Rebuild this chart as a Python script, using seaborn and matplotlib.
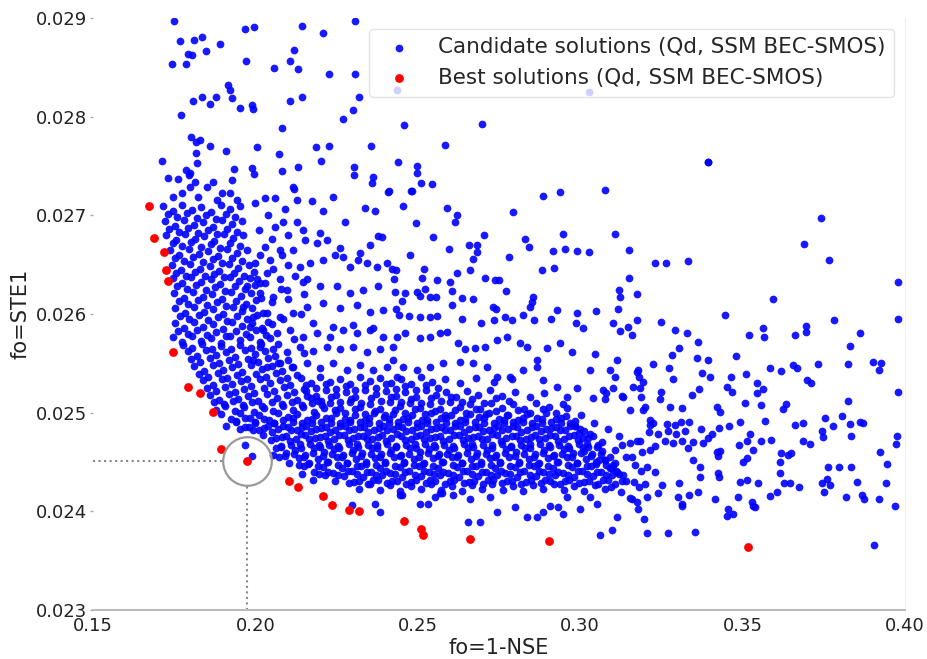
import matplotlib
matplotlib.use("Agg")
import matplotlib.pyplot as plt
import seaborn as sns
import pandas as pd

# Best (pareto) solutions
best_x = [0.1672, 0.1688, 0.1718, 0.1725, 0.1731, 0.1746, 0.1792, 0.1829, 0.1869, 0.1894,
          0.1974, 0.2103, 0.2131, 0.2208, 0.2235, 0.2288, 0.2318, 0.2457, 0.2509, 0.2515,
          0.2660, 0.2903, 0.3518]
best_y = [0.02709, 0.02677, 0.02663, 0.02645, 0.02633, 0.02561, 0.02526, 0.02520, 0.02501, 0.02463,
          0.02451, 0.02431, 0.02425, 0.02416, 0.02406, 0.02401, 0.02400, 0.02390, 0.02382, 0.02376,
          0.02372, 0.02370, 0.02364]

# chosen solution (circled)
chosen = 10

# Candidate solutions, read region by region
upper_pts = [
    (.1749,.02897),(.1768,.02877),(.1811,.02878),(.1835,.02881),(.1848,.02867),(.1792,.02863),(.1805,.02862),
    (.1743,.02853),(.1786,.02853),(.1891,.02874),(.1968,.02889),(.1995,.02891),(.1971,.02856),(.2057,.02849),
    (.2118,.02868),(.2143,.02892),(.2106,.02856),(.2131,.02848),(.1915,.02832),(.1922,.02827),(.1808,.02816),
    (.1835,.02820),(.1860,.02813),(.1878,.02820),(.1928,.02819),(.1952,.02809),(.1989,.02812),(.1992,.02808),
    (.2106,.02816),(.2143,.02820),(.1771,.02802),(.2082,.02788),(.1802,.02779),(.1817,.02774),(.1829,.02776),
    (.1860,.02770),(.1817,.02763),(.1909,.02765),(.2005,.02769),(.2072,.02762),(.2186,.02769),(.1712,.02755),
    (.1820,.02753),(.1786,.02746),(.1798,.02743),(.1934,.02747),(.1989,.02748),(.2131,.02749),(.1995,.02742),
    (.2082,.02745),(.1762,.02737),(.1795,.02741),(.1928,.02736),(.2118,.02727),
    (.2306,.02897),(.2208,.02885),(.2226,.02843),(.2306,.02843),(.2318,.02820),(.2300,.02807),(.2269,.02798),
    (.2457,.02792),(.2697,.02793),(.2226,.02770),(.2355,.02770),(.2583,.02771),(.2202,.02755),(.2303,.02749),
    (.2303,.02741),(.2438,.02754),(.2497,.02750),(.2411,.02725),(.2478,.02725),(.2435,.02827),(.3026,.02825),
    (.3395,.02754),
    (.1731,.02738),(.1798,.02729),(.1814,.02734),(.1851,.02729),(.1869,.02734),(.1897,.02723),(.1922,.02723),
    (.1943,.02716),(.1746,.02719),(.1774,.02723),(.1823,.02719),(.1882,.02716),
]

mid_pts = [
    (.2174,.02715),(.2238,.02719),(.2408,.02724),(.2358,.02733),(.2362,.02739),(.2497,.02743),(.2208,.02704),
    (.2337,.02707),(.2368,.02704),(.2275,.02693),(.2146,.02685),(.2198,.02682),(.2152,.02675),(.2189,.02672),
    (.2220,.02675),(.2260,.02667),(.2269,.02658),(.2322,.02662),(.2352,.02670),(.2377,.02679),(.2389,.02678),
    (.2137,.02648),(.2168,.02652),(.2208,.02655),(.2245,.02660),(.2291,.02648),(.2315,.02655),(.2343,.02652),
    (.2374,.02648),(.2405,.02652),(.2146,.02632),(.2198,.02628),(.2251,.02628),(.2291,.02621),(.2331,.02624),
    (.2377,.02628),(.2158,.02607),(.2208,.02611),(.2260,.02606),(.2312,.02609),(.2352,.02602),(.2392,.02604),
    (.2177,.02591),(.2238,.02587),(.2300,.02589),(.2362,.02586),
    (.2509,.02733),(.2543,.02732),(.2482,.02725),(.2885,.02720),(.2937,.02724),(.3075,.02726),(.2454,.02709),
    (.2589,.02707),(.2620,.02700),(.2614,.02693),(.2792,.02703),(.2494,.02692),(.2546,.02678),(.2703,.02680),
    (.2946,.02681),(.3106,.02681),(.2829,.02676),(.2842,.02668),(.2595,.02666),(.2657,.02670),(.2682,.02670),
    (.2682,.02663),(.2915,.02664),(.2952,.02666),(.2989,.02664),(.3026,.02663),(.3149,.02665),(.2475,.02660),
    (.2669,.02656),(.2780,.02658),(.2420,.02646),(.2432,.02645),(.2518,.02646),(.2620,.02642),(.2660,.02645),
    (.2882,.02645),(.2918,.02647),(.2426,.02635),(.2512,.02636),(.2558,.02634),(.2706,.02636),(.2737,.02634),
    (.2749,.02634),(.3149,.02636),(.2429,.02622),(.2460,.02621),(.2497,.02622),(.2522,.02625),(.2598,.02632),
    (.2605,.02623),(.2771,.02623),(.3118,.02624),(.3174,.02620),(.3122,.02617),(.2451,.02613),(.2506,.02618),
    (.2537,.02617),(.2555,.02617),(.2635,.02616),(.2669,.02615),(.2854,.02617),(.2851,.02612),(.2845,.02607),
    (.2605,.02609),(.2432,.02605),(.2731,.02607),(.2740,.02605),(.2928,.02604),(.2989,.02601),(.3048,.02603),
    (.3115,.02605),(.2442,.02599),(.2472,.02598),(.2506,.02597),(.2537,.02597),(.2558,.02598),(.2635,.02595),
    (.2694,.02591),(.2734,.02594),(.2768,.02597),(.2789,.02594),(.2823,.02599),(.2857,.02594),(.2909,.02595),
    (.2986,.02591),(.3008,.02586),(.3146,.02587),(.3174,.02594),(.3122,.02583),
    (.2435,.02577),(.2460,.02581),(.2506,.02576),(.2537,.02577),(.2568,.02581),(.2589,.02582),(.2623,.02571),
    (.2645,.02564),(.2675,.02566),(.2706,.02567),(.2743,.02574),(.2774,.02577),(.2814,.02571),(.2835,.02567),
    (.2866,.02553),(.2897,.02566),(.2937,.02571),(.2974,.02561),(.3045,.02559),(.3029,.02543),(.3174,.02541),
    (.3192,.02531),(.3131,.02516),(.3152,.02503),(.3192,.02503),(.3081,.02520),(.3039,.02515),(.2989,.02525),
    (.2958,.02516),(.2928,.02526),(.2885,.02533),(.2866,.02546),(.2823,.02543),(.2783,.02536),(.2743,.02536),
    (.2712,.02546),(.2669,.02550),(.2629,.02551),(.2577,.02550),(.2537,.02546),(.2497,.02543),(.2454,.02546),
    (.2423,.02553),
    (.2115,.02729),(.2029,.02718),(.2060,.02718),(.2128,.02716),(.2085,.02693),(.2128,.02693),(.2060,.02688),
    (.2014,.02660),(.2045,.02655),(.2082,.02660),(.2115,.02665),(.2035,.02642),(.2075,.02635),(.2122,.02638),
    (.2005,.02635),(.1974,.02628),(.2014,.02621),(.2054,.02617),(.2097,.02624),(.2115,.02601),(.2075,.02597),
    (.2035,.02601),(.1992,.02597),(.1962,.02607),(.1983,.02587),(.2023,.02584),(.2066,.02581),(.2106,.02584),
    (.2146,.02577),(.2189,.02581),(.2229,.02577),(.2269,.02584),(.2312,.02581),(.2352,.02584),(.2392,.02577),
    (.2423,.02567),(.2383,.02564),(.2343,.02561),(.2300,.02567),(.2260,.02564),(.2220,.02567),(.2177,.02562),
    (.2137,.02567),(.2097,.02561),(.2054,.02564),(.2014,.02567),(.1992,.02553),(.2035,.02546),(.2075,.02550),
    (.2115,.02546),(.2158,.02550),(.2198,.02545),(.2238,.02550),(.2282,.02543),(.2322,.02548),(.2362,.02543),
    (.2405,.02546),(.2435,.02536),
    (.2000,.02712),(.2040,.02700),(.2090,.02706),(.2010,.02685),(.2050,.02676),(.2100,.02680),(.2030,.02668),
    (.2075,.02665),(.2000,.02652),(.2055,.02646),(.2100,.02650),(.2030,.02631),(.2080,.02625),(.2050,.02612),
    (.2100,.02615),(.2040,.02592),(.2085,.02595),(.2070,.02570),(.2120,.02575),(.2100,.02553),(.2150,.02560),
    (.2140,.02600),(.2160,.02635),(.2150,.02620),
]

arm_pts = [
    (.1716,.02709),(.1745,.02704),(.1775,.02710),(.1804,.02705),(.1834,.02708),(.1863,.02703),(.1893,.02710),(.1922,.02706),(.1954,.02709),
    (.1722,.02694),(.1751,.02689),(.1780,.02695),(.1810,.02690),(.1839,.02693),(.1869,.02688),(.1898,.02695),(.1928,.02691),(.1960,.02694),
    (.1726,.02680),(.1755,.02675),(.1784,.02681),(.1814,.02676),(.1843,.02679),(.1873,.02674),(.1902,.02681),(.1932,.02677),(.1963,.02680),
    (.1737,.02665),(.1766,.02660),(.1795,.02666),(.1825,.02661),(.1854,.02664),(.1884,.02659),(.1913,.02666),(.1943,.02662),(.1974,.02665),
    (.1742,.02650),(.1771,.02645),(.1800,.02651),(.1830,.02646),(.1859,.02649),(.1889,.02644),(.1918,.02651),(.1948,.02647),(.1979,.02650),
    (.1745,.02636),(.1774,.02631),(.1803,.02637),(.1833,.02632),(.1862,.02635),(.1892,.02630),(.1921,.02637),(.1951,.02633),(.1982,.02636),(.2013,.02631),
    (.1750,.02621),(.1779,.02616),(.1808,.02622),(.1838,.02617),(.1867,.02620),(.1897,.02615),(.1926,.02622),(.1956,.02618),(.1987,.02621),(.2018,.02616),
    (.1754,.02606),(.1783,.02601),(.1812,.02607),(.1842,.02602),(.1871,.02605),(.1901,.02600),(.1930,.02607),(.1960,.02603),(.1991,.02606),(.2022,.02601),
    (.1752,.02591),(.1781,.02586),(.1810,.02592),(.1840,.02587),(.1869,.02590),(.1899,.02585),(.1928,.02592),(.1958,.02588),(.1989,.02591),(.2020,.02586),(.2051,.02590),
    (.1746,.02577),(.1775,.02572),(.1804,.02578),(.1834,.02573),(.1863,.02576),(.1893,.02571),(.1922,.02578),(.1952,.02574),(.1983,.02577),(.2014,.02572),(.2045,.02576),
    (.1792,.02562),(.1820,.02557),(.1849,.02563),(.1879,.02558),(.1908,.02561),(.1938,.02556),(.1967,.02563),(.1998,.02559),(.2029,.02562),(.2060,.02557),
    (.1812,.02547),(.1841,.02542),(.1870,.02548),(.1900,.02543),(.1929,.02546),(.1959,.02541),(.1988,.02548),(.2019,.02544),(.2050,.02547),(.2081,.02542),(.2112,.02546),
    (.1840,.02533),(.1868,.02528),(.1897,.02534),(.1927,.02529),(.1956,.02532),(.1986,.02527),(.2015,.02534),(.2046,.02530),(.2077,.02533),(.2108,.02528),
    (.1860,.02518),(.1889,.02513),(.1918,.02519),(.1948,.02514),(.1977,.02517),(.2007,.02512),(.2036,.02519),(.2067,.02515),(.2098,.02518),(.2129,.02513),(.2160,.02517),(.2192,.02512),
    (.1878,.02503),(.1907,.02507),(.1936,.02502),(.1966,.02506),(.1995,.02501),(.2025,.02505),(.2055,.02502),(.2086,.02507),(.2117,.02503),(.2148,.02506),(.2180,.02501),(.2212,.02505),
]

# in-between points of the dense arm
arm2_pts = [
    (.1730,.02701),(.1760,.02698),(.1789,.02702),(.1819,.02697),(.1848,.02700),(.1878,.02696),(.1908,.02701),(.1938,.02698),
    (.1735,.02686),(.1765,.02683),(.1794,.02687),(.1824,.02682),(.1853,.02685),(.1883,.02681),(.1913,.02686),(.1944,.02683),
    (.1745,.02672),(.1774,.02669),(.1803,.02673),(.1833,.02668),(.1862,.02671),(.1892,.02667),(.1922,.02672),(.1953,.02669),
    (.1751,.02657),(.1780,.02654),(.1809,.02658),(.1839,.02653),(.1868,.02656),(.1898,.02652),(.1928,.02657),(.1959,.02654),
    (.1756,.02642),(.1785,.02639),(.1814,.02643),(.1844,.02638),(.1873,.02641),(.1903,.02637),(.1933,.02642),(.1964,.02639),(.1995,.02643),
    (.1760,.02628),(.1789,.02625),(.1818,.02629),(.1848,.02624),(.1877,.02627),(.1907,.02623),(.1937,.02628),(.1968,.02625),(.1999,.02629),
    (.1764,.02613),(.1793,.02610),(.1822,.02614),(.1852,.02609),(.1881,.02612),(.1911,.02608),(.1941,.02613),(.1972,.02610),(.2003,.02614),
    (.1767,.02598),(.1796,.02595),(.1825,.02599),(.1855,.02594),(.1884,.02597),(.1914,.02593),(.1944,.02598),(.1975,.02595),(.2006,.02599),
    (.1762,.02583),(.1791,.02580),(.1820,.02584),(.1850,.02579),(.1879,.02582),(.1909,.02578),(.1939,.02583),(.1970,.02580),(.2001,.02584),(.2032,.02579),
    (.1778,.02569),(.1806,.02566),(.1835,.02570),(.1865,.02565),(.1894,.02568),(.1924,.02564),(.1954,.02569),(.1985,.02566),(.2016,.02570),
    (.1802,.02554),(.1830,.02551),(.1859,.02555),(.1889,.02550),(.1918,.02553),(.1948,.02549),(.1978,.02554),(.2009,.02551),(.2040,.02555),(.2071,.02550),
    (.1826,.02539),(.1855,.02536),(.1884,.02540),(.1914,.02535),(.1943,.02538),(.1973,.02534),(.2003,.02539),(.2034,.02536),(.2065,.02540),(.2096,.02535),(.2127,.02538),
    (.1850,.02525),(.1878,.02522),(.1907,.02526),(.1937,.02521),(.1966,.02524),(.1996,.02520),(.2026,.02525),(.2057,.02522),(.2088,.02526),(.2119,.02521),(.2150,.02524),
    (.1873,.02511),(.1902,.02509),(.1931,.02512),(.1961,.02508),(.1990,.02511),(.2020,.02507),(.2050,.02511),(.2081,.02509),(.2112,.02511),(.2143,.02508),(.2175,.02510),(.2206,.02508),
]

band_pts = [
    (.2140,.02535),(.2170,.02530),(.2200,.02536),(.2231,.02531),(.2262,.02534),(.2292,.02529),(.2323,.02536),(.2354,.02532),(.2385,.02535),(.2416,.02530),
    (.2447,.02534),(.2478,.02529),(.2510,.02536),(.2545,.02531),(.2585,.02534),(.2630,.02530),(.2680,.02535),(.2735,.02531),(.2790,.02534),
    (.2155,.02522),(.2186,.02517),(.2216,.02523),(.2247,.02518),(.2278,.02521),(.2308,.02516),(.2339,.02523),(.2370,.02519),(.2401,.02522),(.2432,.02517),
    (.2462,.02521),(.2493,.02516),(.2524,.02523),(.2555,.02518),(.2586,.02521),(.2617,.02516),(.2650,.02522),(.2686,.02518),(.2722,.02523),(.2760,.02517),
    (.2800,.02521),(.2845,.02516),(.2890,.02520),
    (.2230,.02510),(.2261,.02505),(.2292,.02511),(.2322,.02506),(.2353,.02509),(.2384,.02504),(.2415,.02511),(.2446,.02507),(.2477,.02510),(.2507,.02505),
    (.2538,.02509),(.2569,.02504),(.2600,.02511),(.2631,.02506),(.2662,.02509),(.2693,.02504),(.2725,.02510),(.2758,.02505),(.2792,.02509),(.2828,.02504),
    (.2865,.02510),(.2905,.02506),(.2948,.02509),
    (.1895,.02499),(.1924,.02494),(.1953,.02500),(.1983,.02495),(.2012,.02498),(.2041,.02493),(.2071,.02500),(.2100,.02496),(.2129,.02499),(.2159,.02493),
    (.2188,.02498),(.2218,.02495),(.2247,.02500),(.2277,.02494),(.2306,.02498),(.2336,.02493),(.2365,.02500),(.2395,.02496),(.2424,.02499),(.2454,.02494),
    (.2483,.02498),(.2513,.02493),(.2542,.02500),(.2572,.02495),(.2601,.02498),(.2631,.02493),(.2660,.02499),(.2690,.02496),(.2719,.02500),(.2749,.02494),
    (.2778,.02498),(.2808,.02493),(.2837,.02499),(.2867,.02495),(.2896,.02500),(.2926,.02494),(.2955,.02497),(.2985,.02492),
    (.1910,.02486),(.1939,.02491),(.1968,.02485),(.1998,.02490),(.2027,.02484),(.2056,.02489),(.2086,.02486),(.2115,.02491),(.2144,.02485),(.2174,.02489),
    (.2203,.02484),(.2233,.02490),(.2262,.02486),(.2292,.02491),(.2321,.02485),(.2351,.02489),(.2380,.02484),(.2410,.02490),(.2439,.02486),(.2469,.02491),
    (.2498,.02485),(.2528,.02489),(.2557,.02484),(.2587,.02490),(.2616,.02486),(.2646,.02491),(.2675,.02485),(.2705,.02489),(.2734,.02484),(.2764,.02490),
    (.2793,.02486),(.2823,.02491),(.2852,.02485),(.2882,.02489),(.2911,.02484),(.2941,.02490),(.2970,.02486),(.3000,.02483),
    (.1993,.02482),(.2023,.02477),(.2052,.02480),(.2082,.02475),(.2111,.02482),(.2140,.02478),(.2170,.02481),(.2199,.02475),(.2229,.02480),(.2258,.02477),
    (.2288,.02482),(.2317,.02476),(.2347,.02480),(.2376,.02475),(.2406,.02482),(.2435,.02478),(.2465,.02481),(.2494,.02476),(.2524,.02480),(.2553,.02475),
    (.2583,.02482),(.2612,.02477),(.2642,.02480),(.2671,.02475),(.2701,.02481),(.2730,.02478),(.2760,.02482),(.2789,.02476),(.2819,.02480),(.2848,.02475),
    (.2878,.02481),(.2907,.02477),(.2937,.02482),(.2966,.02476),(.2996,.02479),(.3025,.02474),
    (.2048,.02472),(.2078,.02466),(.2107,.02471),(.2137,.02468),(.2166,.02473),(.2196,.02467),(.2225,.02471),(.2255,.02466),(.2284,.02472),(.2314,.02468),
    (.2343,.02473),(.2373,.02467),(.2402,.02471),(.2432,.02466),(.2461,.02472),(.2491,.02468),(.2520,.02473),(.2550,.02467),(.2579,.02471),(.2609,.02466),
    (.2638,.02472),(.2668,.02468),(.2697,.02473),(.2727,.02467),(.2756,.02471),(.2786,.02466),(.2815,.02472),(.2845,.02468),(.2874,.02473),(.2904,.02467),
    (.2933,.02471),(.2963,.02466),(.2992,.02472),(.3022,.02468),(.3051,.02465),
    (.2064,.02464),(.2093,.02459),(.2123,.02462),(.2152,.02457),(.2182,.02464),(.2211,.02460),(.2241,.02463),(.2270,.02457),(.2300,.02462),(.2329,.02459),
    (.2359,.02464),(.2388,.02458),(.2418,.02462),(.2447,.02457),(.2477,.02464),(.2506,.02460),(.2536,.02463),(.2565,.02458),(.2595,.02462),(.2624,.02457),
    (.2654,.02464),(.2683,.02459),(.2713,.02462),(.2742,.02457),(.2772,.02463),(.2801,.02460),(.2831,.02464),(.2860,.02458),(.2890,.02462),(.2919,.02457),
    (.2949,.02463),(.2978,.02459),(.3008,.02464),(.3037,.02458),(.3067,.02461),
    (.2074,.02455),(.2104,.02449),(.2133,.02454),(.2163,.02448),(.2192,.02453),(.2222,.02450),(.2251,.02455),(.2281,.02449),(.2310,.02453),(.2340,.02448),
    (.2369,.02454),(.2399,.02450),(.2428,.02455),(.2458,.02449),(.2487,.02453),(.2517,.02448),(.2546,.02454),(.2576,.02450),(.2605,.02455),(.2635,.02449),
    (.2664,.02453),(.2694,.02448),(.2723,.02454),(.2753,.02450),(.2782,.02455),(.2812,.02449),(.2841,.02453),(.2871,.02448),(.2900,.02454),(.2930,.02450),
    (.2959,.02455),(.2989,.02449),(.3018,.02453),(.3048,.02448),(.3077,.02452),(.3100,.02447),
    (.2149,.02446),(.2179,.02440),(.2208,.02445),(.2238,.02439),(.2267,.02444),(.2297,.02441),(.2326,.02446),(.2356,.02440),(.2385,.02444),(.2415,.02439),
    (.2444,.02445),(.2474,.02441),(.2503,.02446),(.2533,.02440),(.2562,.02444),(.2592,.02439),(.2621,.02445),(.2651,.02441),(.2680,.02446),(.2710,.02440),
    (.2739,.02444),(.2769,.02439),(.2798,.02445),(.2828,.02441),(.2857,.02446),(.2887,.02440),(.2916,.02444),(.2946,.02439),(.2975,.02445),(.3005,.02441),
    (.3034,.02446),(.3064,.02440),(.3093,.02444),(.3120,.02438),
    (.2214,.02437),(.2244,.02431),(.2273,.02436),(.2303,.02430),(.2332,.02435),(.2362,.02432),(.2391,.02437),(.2421,.02431),(.2450,.02435),(.2480,.02430),
    (.2509,.02436),(.2539,.02432),(.2568,.02437),(.2598,.02431),(.2627,.02435),(.2657,.02430),(.2686,.02436),(.2716,.02432),(.2745,.02437),(.2775,.02431),
    (.2804,.02435),(.2834,.02430),(.2863,.02436),(.2893,.02432),(.2922,.02437),(.2952,.02431),(.2981,.02435),(.3011,.02430),(.3040,.02436),(.3070,.02432),
    (.3099,.02437),(.3128,.02431),
    (.2320,.02423),(.2352,.02428),(.2383,.02422),(.2415,.02427),(.2446,.02421),(.2478,.02426),(.2509,.02423),(.2541,.02428),(.2572,.02422),(.2604,.02426),
    (.2635,.02421),(.2667,.02427),(.2698,.02423),(.2730,.02428),(.2761,.02422),(.2793,.02426),(.2824,.02421),(.2856,.02427),(.2887,.02423),(.2919,.02428),
    (.2950,.02422),(.2982,.02426),(.3013,.02421),(.3045,.02427),(.3076,.02423),(.3108,.02428),
    (.2960,.02505),(.3001,.02498),(.3044,.02490),(.3085,.02483),(.3120,.02476),(.3152,.02469),(.2985,.02486),(.3030,.02478),(.3068,.02470),(.3106,.02462),
    (.3140,.02455),(.3170,.02447),(.3011,.02461),(.3059,.02452),(.3095,.02444),(.3133,.02437),(.3165,.02430),(.3190,.02460),(.3205,.02445),(.3160,.02412),
    (.3127,.02420),(.3180,.02425),
]

# in-between points of the dense band
band2_pts = [
    (.2155,.02528),(.2186,.02525),(.2216,.02529),(.2247,.02524),(.2278,.02527),(.2308,.02523),(.2339,.02528),(.2370,.02525),(.2401,.02529),(.2432,.02524),
    (.2462,.02527),(.2493,.02523),(.2526,.02528),(.2562,.02525),
    (.2170,.02515),(.2201,.02512),(.2232,.02516),(.2262,.02511),(.2293,.02514),(.2324,.02510),(.2355,.02515),(.2386,.02512),(.2417,.02516),(.2447,.02511),
    (.2478,.02514),(.2509,.02510),(.2540,.02515),(.2571,.02512),(.2602,.02516),(.2635,.02511),(.2668,.02514),(.2704,.02510),(.2741,.02515),(.2780,.02512),
    (.2245,.02503),(.2276,.02500),(.2307,.02504),(.2338,.02499),(.2369,.02502),(.2400,.02498),(.2431,.02503),(.2462,.02500),(.2492,.02504),(.2523,.02499),
    (.2554,.02502),(.2585,.02498),(.2616,.02503),(.2647,.02500),(.2678,.02504),(.2710,.02499),(.2742,.02502),(.2775,.02498),(.2810,.02503),(.2846,.02500),
    (.2885,.02504),(.2925,.02500),
    (.1940,.02492),(.1969,.02495),(.1998,.02491),(.2027,.02494),(.2056,.02490),(.2086,.02493),(.2115,.02495),(.2144,.02490),(.2174,.02494),(.2203,.02491),
    (.2233,.02495),(.2262,.02490),(.2292,.02493),(.2321,.02491),(.2351,.02495),(.2380,.02490),(.2410,.02494),(.2439,.02491),(.2469,.02495),(.2498,.02490),
    (.2528,.02493),(.2557,.02491),(.2587,.02495),(.2616,.02490),(.2646,.02494),(.2675,.02491),(.2705,.02495),(.2734,.02490),(.2764,.02493),(.2793,.02491),
    (.2823,.02495),(.2852,.02490),(.2882,.02494),(.2911,.02491),(.2941,.02495),(.2970,.02490),
    (.1952,.02483),(.1981,.02485),(.2010,.02482),(.2040,.02486),(.2069,.02483),(.2099,.02485),(.2128,.02482),(.2157,.02486),(.2187,.02483),(.2216,.02485),
    (.2246,.02482),(.2275,.02486),(.2305,.02483),(.2334,.02485),(.2364,.02482),(.2393,.02486),(.2423,.02483),(.2452,.02485),(.2482,.02482),(.2511,.02486),
    (.2541,.02483),(.2570,.02485),(.2600,.02482),(.2629,.02486),(.2659,.02483),(.2688,.02485),(.2718,.02482),(.2747,.02486),(.2777,.02483),(.2806,.02485),
    (.2836,.02482),(.2865,.02486),(.2895,.02483),(.2924,.02485),(.2954,.02482),(.2983,.02486),(.3012,.02481),
    (.2065,.02474),(.2095,.02476),(.2124,.02473),(.2154,.02477),(.2183,.02474),(.2213,.02476),(.2242,.02473),(.2272,.02477),(.2301,.02474),(.2331,.02476),
    (.2360,.02473),(.2390,.02477),(.2419,.02474),(.2449,.02476),(.2478,.02473),(.2508,.02477),(.2537,.02474),(.2567,.02476),(.2596,.02473),(.2626,.02477),
    (.2655,.02474),(.2685,.02476),(.2714,.02473),(.2744,.02477),(.2773,.02474),(.2803,.02476),(.2832,.02473),(.2862,.02477),(.2891,.02474),(.2921,.02476),
    (.2950,.02473),(.2980,.02477),(.3009,.02474),(.3038,.02476),
    (.2080,.02465),(.2110,.02467),(.2139,.02464),(.2169,.02468),(.2198,.02465),(.2228,.02467),(.2257,.02464),(.2287,.02468),(.2316,.02465),(.2346,.02467),
    (.2375,.02464),(.2405,.02468),(.2434,.02465),(.2464,.02467),(.2493,.02464),(.2523,.02468),(.2552,.02465),(.2582,.02467),(.2611,.02464),(.2641,.02468),
    (.2670,.02465),(.2700,.02467),(.2729,.02464),(.2759,.02468),(.2788,.02465),(.2818,.02467),(.2847,.02464),(.2877,.02468),(.2906,.02465),(.2936,.02467),
    (.2965,.02464),(.2995,.02468),(.3024,.02465),(.3054,.02467),
    (.2090,.02456),(.2119,.02458),(.2149,.02455),(.2178,.02459),(.2208,.02456),(.2237,.02458),(.2267,.02455),(.2296,.02459),(.2326,.02456),(.2355,.02458),
    (.2385,.02455),(.2414,.02459),(.2444,.02456),(.2473,.02458),(.2503,.02455),(.2532,.02459),(.2562,.02456),(.2591,.02458),(.2621,.02455),(.2650,.02459),
    (.2680,.02456),(.2709,.02458),(.2739,.02455),(.2768,.02459),(.2798,.02456),(.2827,.02458),(.2857,.02455),(.2886,.02459),(.2916,.02456),(.2945,.02458),
    (.2975,.02455),(.3004,.02459),(.3034,.02456),(.3063,.02458),(.3092,.02455),
    (.2135,.02447),(.2164,.02449),(.2194,.02446),(.2223,.02450),(.2253,.02447),(.2282,.02449),(.2312,.02446),(.2341,.02450),(.2371,.02447),(.2400,.02449),
    (.2430,.02446),(.2459,.02450),(.2489,.02447),(.2518,.02449),(.2548,.02446),(.2577,.02450),(.2607,.02447),(.2636,.02449),(.2666,.02446),(.2695,.02450),
    (.2725,.02447),(.2754,.02449),(.2784,.02446),(.2813,.02450),(.2843,.02447),(.2872,.02449),(.2902,.02446),(.2931,.02450),(.2961,.02447),(.2990,.02449),
    (.3020,.02446),(.3049,.02450),(.3079,.02447),(.3108,.02449),
    (.2195,.02438),(.2225,.02440),(.2254,.02437),(.2284,.02441),(.2313,.02438),(.2343,.02440),(.2372,.02437),(.2402,.02441),(.2431,.02438),(.2461,.02440),
    (.2490,.02437),(.2520,.02441),(.2549,.02438),(.2579,.02440),(.2608,.02437),(.2638,.02441),(.2667,.02438),(.2697,.02440),(.2726,.02437),(.2756,.02441),
    (.2785,.02438),(.2815,.02440),(.2844,.02437),(.2874,.02441),(.2903,.02438),(.2933,.02440),(.2962,.02437),(.2992,.02441),(.3021,.02438),(.3051,.02440),
    (.3080,.02437),(.3110,.02441),
    (.2288,.02429),(.2318,.02431),(.2347,.02428),(.2377,.02432),(.2406,.02429),(.2436,.02431),(.2465,.02428),(.2495,.02432),(.2524,.02429),(.2554,.02431),
    (.2583,.02428),(.2613,.02432),(.2642,.02429),(.2672,.02431),(.2701,.02428),(.2731,.02432),(.2760,.02429),(.2790,.02431),(.2819,.02428),(.2849,.02432),
    (.2878,.02429),(.2908,.02431),(.2937,.02428),(.2967,.02432),(.2996,.02429),(.3026,.02431),(.3055,.02428),(.3085,.02432),
]

low_pts = [
    (.2451,.02417),(.2506,.02407),(.2574,.02419),(.2654,.02389),(.2691,.02389),(.2743,.02399),(.2799,.02404),(.2835,.02394),(.2866,.02394),(.2885,.02399),
    (.2931,.02404),(.2946,.02397),(.2998,.02402),(.3060,.02376),(.3097,.02381),(.3112,.02394),(.3177,.02402),(.3174,.02409),(.3198,.02392),(.3205,.02378),
    (.3051,.02407),(.3029,.02415),(.2958,.02415),(.2906,.02405),(.2722,.02415),(.2660,.02412),(.2608,.02417),(.2552,.02414),(.2297,.02406),(.2368,.02407),
    (.2383,.02399),(.2445,.02417),(.2531,.02407),(.2568,.02419),(.2143,.02438),(.2177,.02432),(.2054,.02457),(.1989,.02456),(.1968,.02467),
]

right_pts = [
    (.3395,.02754),(.3740,.02697),(.3688,.02671),(.3765,.02655),(.3977,.02632),(.3595,.02615),(.3229,.02652),(.3263,.02652),(.3331,.02654),(.3445,.02599),
    (.3977,.02595),(.3780,.02594),(.3248,.02592),(.3291,.02584),(.3328,.02581),(.3362,.02572),(.3519,.02579),(.3562,.02586),(.3565,.02577),(.3660,.02579),
    (.3694,.02588),(.3694,.02582),(.3860,.02581),(.3832,.02568),(.3303,.02566),(.3282,.02558),(.3395,.02553),(.3479,.02557),(.3359,.02555),(.3223,.02549),
    (.3272,.02545),(.3374,.02540),(.3399,.02536),(.3285,.02534),(.3463,.02536),(.3512,.02539),(.3583,.02545),(.3617,.02542),(.3654,.02548),(.3669,.02545),
    (.3731,.02549),(.3826,.02549),(.3900,.02551),(.3925,.02550),(.3919,.02543),(.3451,.02526),(.3466,.02521),(.3543,.02530),(.3543,.02520),(.3562,.02524),
    (.3697,.02533),(.3712,.02530),(.3365,.02524),(.3343,.02518),(.3248,.02521),(.3245,.02514),(.3199,.02506),(.3275,.02506),(.3315,.02505),(.3420,.02506),
    (.3429,.02501),(.3506,.02510),(.3558,.02508),(.3623,.02504),(.3635,.02509),(.3826,.02512),(.3980,.02521),(.3755,.02495),(.3805,.02497),(.3568,.02492),
    (.3491,.02491),(.3457,.02486),(.3426,.02484),(.3371,.02483),(.3334,.02491),(.3309,.02491),(.3291,.02487),(.3266,.02488),(.3269,.02481),(.3214,.02493),
    (.3214,.02487),(.3211,.02480),(.3322,.02481),(.3660,.02487),(.3685,.02490),(.3746,.02481),(.3777,.02486),(.3832,.02488),(.3860,.02491),(.3872,.02490),
    (.3974,.02476),(.3971,.02468),(.3749,.02475),(.3835,.02476),(.3685,.02471),(.3709,.02468),(.3589,.02472),(.3522,.02478),(.3515,.02471),(.3488,.02467),
    (.3558,.02471),(.3395,.02474),(.3377,.02469),(.3346,.02470),(.3312,.02471),(.3285,.02469),(.3260,.02471),(.3239,.02478),(.3229,.02466),(.3183,.02471),
    (.3100,.02591),(.3158,.02579),(.3091,.02543),(.3106,.02536),(.3112,.02553),(.3177,.02543),(.3180,.02536),(.3069,.02523),(.3100,.02525),(.3075,.02514),
    (.3128,.02517),(.3162,.02526),(.3183,.02525),(.3186,.02516),(.3223,.02490),(.3294,.02478),
    (.3922,.02460),(.3946,.02448),(.3835,.02445),(.3762,.02445),(.3798,.02445),(.3851,.02430),(.3759,.02433),(.3768,.02427),(.3943,.02429),(.3968,.02405),
    (.3919,.02412),(.3869,.02417),(.3875,.02412),(.3817,.02414),(.3752,.02420),(.3746,.02429),(.3675,.02425),(.3645,.02429),(.3626,.02429),(.3614,.02439),
    (.3639,.02457),(.3648,.02459),(.3617,.02459),(.3614,.02450),(.3531,.02462),(.3491,.02430),(.3515,.02432),(.3546,.02429),(.3583,.02416),(.3605,.02420),
    (.3515,.02454),(.3500,.02450),(.3485,.02414),(.3454,.02402),(.3451,.02395),(.3469,.02397),(.3528,.02409),(.3531,.02405),(.3537,.02404),(.3414,.02412),
    (.3423,.02439),(.3426,.02435),(.3368,.02435),(.3362,.02420),(.3334,.02417),(.3312,.02407),(.3315,.02405),(.3352,.02379),(.3269,.02378),(.3205,.02414),
    (.3239,.02419),(.3251,.02427),(.3303,.02429),(.3300,.02415),(.3331,.02464),(.3346,.02452),(.3368,.02445),(.3405,.02478),(.3420,.02460),(.3423,.02456),
    (.3429,.02461),(.3906,.02366),
    (.3128,.02467),(.3160,.02455),(.3186,.02441),(.3140,.02431),(.3112,.02440),(.3174,.02471),(.3215,.02462),(.3075,.02452),(.3095,.02425),(.3152,.02413),
    (.3230,.02440),(.3200,.02428),
]

all_pts = upper_pts + mid_pts + arm_pts + arm2_pts + band_pts + band2_pts + low_pts + right_pts
cand = pd.DataFrame(all_pts, columns=["nse", "ste1"])
best = pd.DataFrame({"nse": best_x, "ste1": best_y})

sns.set_style("white")
plt.rcParams["font.family"] = ["DejaVu Sans"]

fig = plt.figure(figsize=(9.28, 6.59), dpi=100)
ax = fig.add_axes([0.1002, 0.0744, 0.875, 0.8983])

sns.scatterplot(data=cand, x="nse", y="ste1", color="blue", s=31, linewidth=0, alpha=0.9,
                label="Candidate solutions (Qd, SSM BEC-SMOS)", ax=ax)
sns.scatterplot(data=best, x="nse", y="ste1", color="red", s=40, linewidth=0, zorder=3,
                label="Best solutions (Qd, SSM BEC-SMOS)", ax=ax)

# circle + guide lines on the chosen solution
cx, cy = best_x[chosen], best_y[chosen]
ax.plot(cx, cy, marker="o", ms=35, mfc="none", mec="#999999", mew=1.6, zorder=4)
ax.plot([0.15, cx - 0.0075], [cy, cy], ls=":", color="#888888", lw=1.5)
ax.plot([cx, cx], [0.023, cy - 0.00024], ls=":", color="#888888", lw=1.5)

ax.set_xlim(0.15, 0.40)
ax.set_ylim(0.023, 0.029)
ax.set_xticks([0.15, 0.20, 0.25, 0.30, 0.35, 0.40])
ax.set_xticklabels(["%.2f" % v for v in ax.get_xticks()])
ax.set_yticks([0.023, 0.024, 0.025, 0.026, 0.027, 0.028, 0.029])
ax.set_yticklabels(["%.3f" % v for v in ax.get_yticks()])
ax.tick_params(axis="y", left=True, right=False, labelleft=True, labelright=False,
               length=2, width=1, color="#aaaaaa", pad=2, labelsize=13, labelcolor="#222222")
ax.tick_params(axis="x", length=0, pad=5, labelsize=13, labelcolor="#222222")
ax.set_xlabel("fo=1-NSE", fontsize=15, color="#222222", labelpad=2)
ax.set_ylabel("fo=STE1", fontsize=15, color="#222222")

ax.spines["left"].set_visible(False)
ax.spines["top"].set_visible(False)
ax.spines["bottom"].set_color("#bbbbbb")
ax.spines["bottom"].set_linewidth(1.5)
ax.spines["right"].set_color("#f0f0f0")

leg = ax.legend(loc="upper right", fontsize=15.5, frameon=True, borderaxespad=0.5)
leg.get_frame().set_edgecolor("#dddddd")

fig.savefig("out.png", dpi=100)
